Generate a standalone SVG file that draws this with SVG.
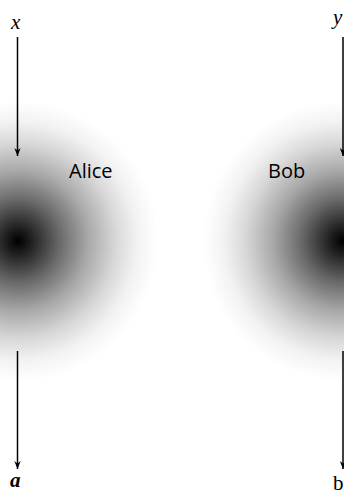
<svg xmlns="http://www.w3.org/2000/svg" width="344" height="494" viewBox="0 0 344 494">
<style>
.c{stroke:#000;stroke-width:1.5;fill:none}
.lbl{font-family:"Open Sans","DejaVu Sans",sans-serif;font-size:20px;fill:#000}
.m{font-family:"Liberation Serif","DejaVu Serif",serif;font-size:21px;fill:#000}
</style>
<defs>
<radialGradient id="g">
<stop offset="0" stop-color="#000"/>
<stop offset="0.1" stop-color="#222"/>
<stop offset="0.3" stop-color="#6a6a6a"/>
<stop offset="0.5" stop-color="#a8a8a8"/>
<stop offset="0.7" stop-color="#d8d8d8"/>
<stop offset="0.85" stop-color="#f2f2f2"/>
<stop offset="1" stop-color="#fff"/>
</radialGradient>
<marker id="ah" viewBox="0 0 10 10" refX="10" refY="5" markerWidth="8" markerHeight="8" markerUnits="userSpaceOnUse" orient="auto">
<path d="M0,1 L10,5 L0,9 L3,5 Z" fill="#000"/>
</marker>
</defs>
<rect width="344" height="494" fill="#fff"/>
<g id="alice">
<circle cx="18" cy="241" r="140" fill="url(#g)"/>
<text class="lbl" x="69" y="178">Alice</text>
</g>
<g id="bob">
<circle cx="343" cy="241" r="140" fill="url(#g)"/>
<text class="lbl" x="268" y="178">Bob</text>
</g>
<g id="labels">
<text class="m" x="11" y="29" font-style="italic">x</text>
<text class="m" x="333" y="24" font-style="italic">y</text>
<text class="m" x="10" y="487" font-style="italic" font-weight="bold">a</text>
<text class="m" x="333" y="490">b</text>
</g>
<g id="connectors">
<line class="c" x1="17.5" y1="37" x2="17.5" y2="156" marker-end="url(#ah)"/>
<line class="c" x1="343" y1="37" x2="343" y2="156" marker-end="url(#ah)"/>
<line class="c" x1="17.5" y1="351" x2="17.5" y2="469" marker-end="url(#ah)"/>
<line class="c" x1="343" y1="351" x2="343" y2="469" marker-end="url(#ah)"/>
</g>
</svg>
